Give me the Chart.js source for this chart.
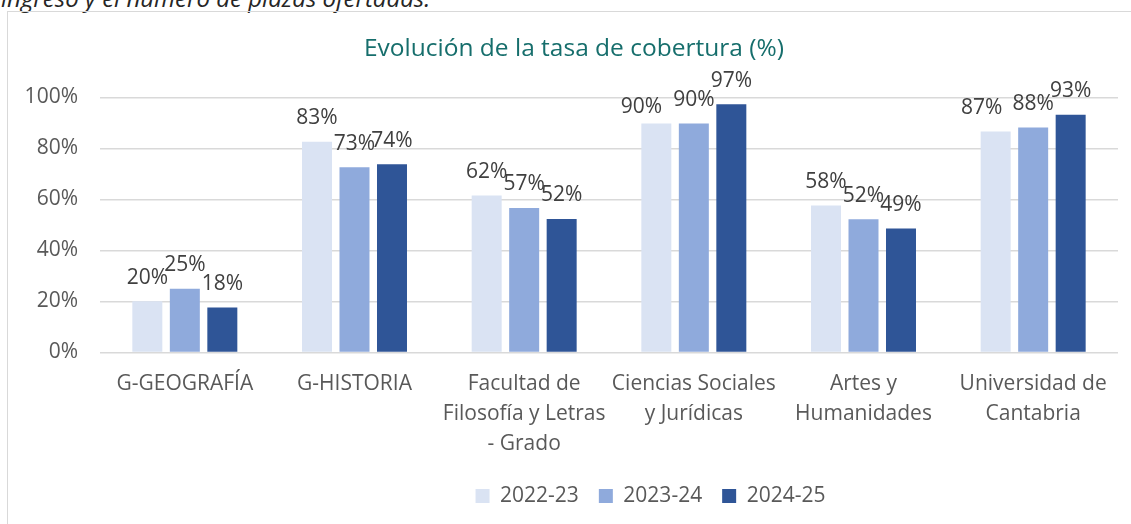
<!DOCTYPE html>
<html lang="es">
<head>
<meta charset="utf-8">
<title>Evolución de la tasa de cobertura</title>
<script src="https://cdn.jsdelivr.net/npm/chart.js@4.4.1/dist/chart.umd.min.js"></script>
<style>
    html, body { margin: 0; padding: 0; background: #fff; overflow: hidden; }
    body { width: 1131px; height: 524px; position: relative; }
    #texto-previo {
        position: absolute; left: 1px; top: -14px;
        font: italic 24px/24px 'Open Sans', sans-serif;
        color: #262626; white-space: nowrap;
    }
    #marco {
        position: absolute; left: 7px; top: 11px;
        width: 1400px; height: 600px;
        border-left: 1px solid #d9d9d9; border-top: 1px solid #d9d9d9;
    }
    #tasaCobertura { position: absolute; left: 0; top: 0; }
</style>
</head>
<body>
<div id="texto-previo">ingreso y el número de plazas ofertadas.</div>
<div id="marco">
    <canvas id="tasaCobertura" width="1285" height="512"></canvas>
</div>
<script>
// datos (tasa de cobertura, %)
const categorias = [
    'G-GEOGRAFÍA',
    'G-HISTORIA',
    ['Facultad de', 'Filosofía y Letras', '- Grado'],
    ['Ciencias Sociales', 'y Jurídicas'],
    ['Artes y', 'Humanidades'],
    ['Universidad de', 'Cantabria']
];
const cursos = ['2022-23', '2023-24', '2024-25'];
const tasa2223 = [20.1, 82.6, 61.6, 89.8, 57.6, 86.7];
const tasa2324 = [25.0, 72.6, 56.7, 89.8, 52.3, 88.2];
const tasa2425 = [17.6, 73.8, 52.4, 97.4, 48.6, 93.2];
const colores = ['#DAE3F3', '#8FAADC', '#2F5597'];
const ticksY = [0, 20, 40, 60, 80, 100];

const titulo = 'Evolución de la tasa de cobertura (%)';

Chart.defaults.font.family = "'Open Sans', sans-serif";

// etiquetas encima de cada barra
const etiquetasBarras = {
    id: 'etiquetasBarras',
    afterDatasetsDraw(chart, args, opts) {
        const ctx = chart.ctx;
        ctx.save();
        ctx.font = "21px 'Open Sans', sans-serif";
        ctx.fillStyle = '#404040';
        ctx.textAlign = 'center';
        ctx.textBaseline = 'alphabetic';
        chart.data.datasets.forEach((ds, i) => {
            const meta = chart.getDatasetMeta(i);
            meta.data.forEach((barra, j) => {
                const ajuste = opts.ajustes[j + '-' + i] || [0, 0];
                ctx.fillText(Math.round(ds.data[j]) + '%', barra.x + ajuste[0], barra.y - 17.5 + ajuste[1]);
            });
        });
        ctx.restore();
    }
};

// titulo colocado a mano, como en el original
const tituloFijo = {
    id: 'tituloFijo',
    afterDraw(chart) {
        const ctx = chart.ctx;
        ctx.save();
        ctx.font = "24.5px 'Open Sans', sans-serif";
        ctx.fillStyle = '#166e6c';
        ctx.textAlign = 'left';
        ctx.textBaseline = 'middle';
        ctx.fillText(titulo, 356, 37);
        ctx.restore();
    }
};

function crearGrafico(id) {
    const ctx = document.getElementById(id).getContext('2d');
    const series = [tasa2223, tasa2324, tasa2425];
    return new Chart(ctx, {
        type: 'bar',
        data: {
            labels: categorias,
            datasets: series.map((s, i) => ({
                label: cursos[i],
                data: s,
                backgroundColor: colores[i],
                borderWidth: 0,
                categoryPercentage: 0.663,
                barPercentage: 0.8,
                yAxisID: 'y'
            }))
        },
        options: {
            responsive: false,
            animation: false,
            devicePixelRatio: 1,
            events: [],
            layout: { padding: { top: 85.5, bottom: 7.5, left: 0, right: 0 } },
            scales: {
                x: {
                    grid: { display: false, drawTicks: false },
                    border: { display: false },
                    ticks: {
                        color: '#595959',
                        font: { size: 21, lineHeight: 30 / 21 },
                        padding: 17,
                        maxRotation: 0,
                        autoSkip: false
                    },
                    afterFit: (s) => { s.height = 113; }
                },
                y: {
                    min: 0,
                    max: 100,
                    grid: { color: '#d9d9d9', lineWidth: 1.5, drawTicks: false },
                    border: { display: false },
                    afterBuildTicks: (s) => { s.ticks = ticksY.map(v => ({ value: v })); },
                    ticks: {
                        color: '#595959',
                        font: { size: 21 },
                        padding: 22,
                        callback: (v) => v + '%'
                    },
                    afterFit: (s) => { s.width = 92; }
                },
                // eje vacio a la derecha: el grafico original sigue fuera de la pagina
                yDer: {
                    position: 'right',
                    grid: { display: false, drawTicks: false },
                    border: { display: false },
                    ticks: { display: false },
                    afterFit: (s) => { s.width = 175; }
                }
            },
            plugins: {
                legend: {
                    position: 'bottom',
                    labels: {
                        boxWidth: 14,
                        boxHeight: 14,
                        padding: 20,
                        color: '#595959',
                        font: { size: 21 }
                    }
                },
                title: { display: false },
                tooltip: { enabled: false },
                etiquetasBarras: {
                    ajustes: { '3-0': [-15, 7], '5-0': [-14, 0] }
                }
            }
        },
        plugins: [etiquetasBarras, tituloFijo]
    });
}

crearGrafico('tasaCobertura');
</script>
</body>
</html>
